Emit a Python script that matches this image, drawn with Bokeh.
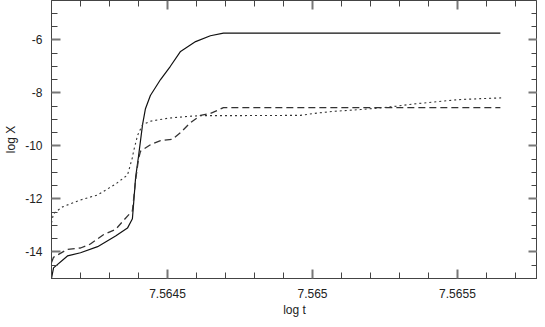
from bokeh.plotting import figure
from bokeh.models import LinearAxis, FixedTicker, Range1d, CustomJSTickFormatter
from bokeh.embed import file_html
from bokeh.resources import INLINE

# Data
solid_x = [7.564100, 7.564107, 7.564155, 7.564200, 7.564259, 7.564321, 7.564362, 7.564379,
           7.564383, 7.564390, 7.564400, 7.564414, 7.564424, 7.564441, 7.564476, 7.564510,
           7.564545, 7.564597, 7.564648, 7.564693, 7.565648]
solid_y = [-15.0, -14.6, -14.15, -14.03, -13.8, -13.4, -13.1, -12.75, -12.2, -11.2, -10.4,
           -9.2, -8.6, -8.1, -7.5, -7.0, -6.44, -6.07, -5.85, -5.75, -5.75]

dashed_x = [7.564100, 7.564107, 7.564155, 7.564200, 7.564234, 7.564279, 7.564321, 7.564366,
            7.564379, 7.564390, 7.564400, 7.564407, 7.564441, 7.564476, 7.564517, 7.564545,
            7.564572, 7.564586, 7.564614, 7.564648, 7.564693, 7.565648]
dashed_y = [-14.4, -14.2, -13.9, -13.85, -13.7, -13.35, -13.15, -12.6, -12.45, -11.3, -10.5,
            -10.2, -9.96, -9.8, -9.75, -9.5, -9.2, -9.07, -8.85, -8.78, -8.56, -8.56]

dotted_x = [7.564100, 7.564107, 7.564138, 7.564200, 7.564259, 7.564321, 7.564362, 7.564379,
            7.564383, 7.564397, 7.564414, 7.564441, 7.564500, 7.564569, 7.564614, 7.564728,
            7.564959, 7.565003, 7.565072, 7.565166, 7.565224, 7.565293, 7.565348, 7.565417,
            7.565500, 7.565579, 7.565655]
dotted_y = [-12.9, -12.55, -12.3, -12.04, -11.85, -11.44, -11.1, -10.44, -10.2, -9.6, -9.2,
            -9.07, -8.96, -8.89, -8.86, -8.86, -8.85, -8.78, -8.7, -8.63, -8.58, -8.5, -8.42,
            -8.35, -8.26, -8.22, -8.19]

x_major = [7.5645, 7.565, 7.5655]
x_labels = ["7.5645", "7.565", "7.5655"]
x_minor = [7.5641, 7.5642, 7.5643, 7.5644, 7.5646, 7.5647, 7.5648, 7.5649,
           7.5651, 7.5652, 7.5653, 7.5654, 7.5656, 7.5657]
y_major = [-14, -12, -10, -8, -6]
y_labels = ["-14", "-12", "-10", "-8", "-6"]
y_minor = [-15, -14.5, -13.5, -13, -12.5, -11.5, -11, -10.5, -9.5, -9, -8.5,
           -7.5, -7, -6.5, -5.5, -5, -4.5]

X_START, X_END = 7.5641, 7.565776
Y_START, Y_END = -15.0, -4.52

FONT = "Liberation Sans"
AX = "#444444"

p = figure(width=537, height=319, output_backend="svg", toolbar_location=None,
           x_axis_location=None, y_axis_location=None,
           min_border_left=51, min_border_right=0, min_border_top=0, min_border_bottom=39)
p.x_range = Range1d(X_START, X_END)
p.y_range = Range1d(Y_START, Y_END)
p.grid.visible = False
p.outline_line_color = AX
p.background_fill_color = "white"
p.border_fill_color = "white"

xt = FixedTicker(ticks=x_major, minor_ticks=x_minor)
yt = FixedTicker(ticks=y_major, minor_ticks=y_minor)


def style(ax):
    ax.axis_line_color = AX
    ax.major_tick_line_color = "#777777"
    ax.minor_tick_line_color = AX
    ax.major_tick_line_width = 2
    ax.major_tick_in = 9
    ax.major_tick_out = 0
    ax.minor_tick_in = 6
    ax.minor_tick_out = 0
    ax.major_label_text_font = FONT
    ax.major_label_text_font_size = "12px"
    ax.major_label_text_color = "#222222"
    ax.axis_label_text_font = FONT
    ax.axis_label_text_font_size = "12px"
    ax.axis_label_text_font_style = "normal"
    ax.axis_label_text_color = "#222222"


bottom = LinearAxis(ticker=xt, axis_label="log t")
bottom.major_label_overrides = {v: s for v, s in zip(x_major, x_labels)}
style(bottom)
bottom.major_label_standoff = 10
bottom.axis_label_standoff = 2
p.add_layout(bottom, "below")

left = LinearAxis(ticker=yt, axis_label="log X")
left.major_label_overrides = {v: s for v, s in zip(y_major, y_labels)}
style(left)
left.major_label_standoff = 9
left.axis_label_standoff = 4
p.add_layout(left, "left")

blank = CustomJSTickFormatter(code="return '';")
top = LinearAxis(ticker=xt, formatter=blank, major_label_standoff=0, fixed_location=Y_END)
style(top)
p.add_layout(top, "above")

right = LinearAxis(ticker=yt, formatter=blank, major_label_standoff=0, fixed_location=X_END)
style(right)
p.add_layout(right, "right")

p.line(solid_x, solid_y, line_color="#111111", line_width=1.2)
p.line(dashed_x, dashed_y, line_color="#333333", line_width=1.3, line_dash="7 4")
p.line(dotted_x, dotted_y, line_color="#333333", line_width=1.1, line_dash="2 3")

open("out.html", "w").write(file_html(p, INLINE))
